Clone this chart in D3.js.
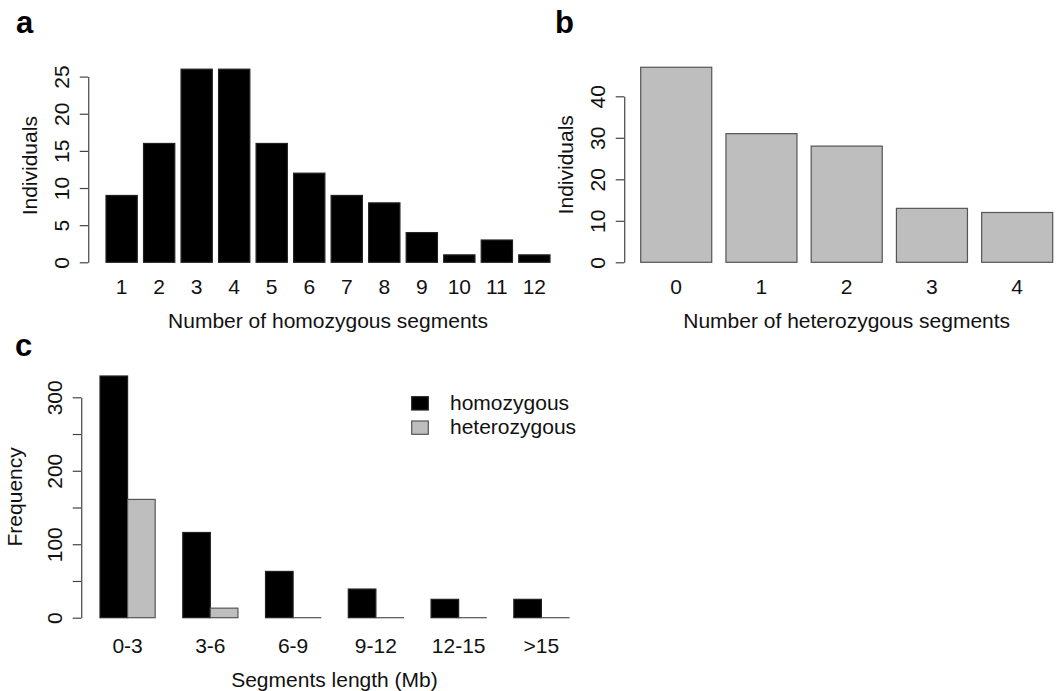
<!DOCTYPE html>
<html>
<head>
<meta charset="utf-8">
<script src="https://cdn.jsdelivr.net/npm/d3@7"></script>
<style>
  body { margin: 0; background: #fff; }
  svg { display: block; font-family: "Liberation Sans", Arial, Helvetica, sans-serif; }
</style>
</head>
<body>
<svg id="chart" width="1062" height="691"></svg>
<script>
// panel a: individuals by number of homozygous segments
const homSegments = ["1", "2", "3", "4", "5", "6", "7", "8", "9", "10", "11", "12"];
const homIndividuals = [9, 16, 26, 26, 16, 12, 9, 8, 4, 1, 3, 1];
const aTicks = [0, 5, 10, 15, 20, 25];

// panel b: individuals by number of heterozygous segments
const hetSegments = ["0", "1", "2", "3", "4"];
const hetIndividuals = [47, 31, 28, 13, 12];
const bTicks = [0, 10, 20, 30, 40];

// panel c: segment length distribution
const lengthBins = ["0-3", "3-6", "6-9", "9-12", "12-15", ">15"];
const homFreq = [329, 116, 63, 39, 25, 25];
const hetFreq = [161, 13, 0, 0, 0, 0];
const seriesNames = ["homozygous", "heterozygous"];
const cTicks = [0, 50, 100, 150, 200, 250, 300];
const cLabels = [0, 100, 200, 300];

const FONT = 21;
const BLACK = "#000";
const GREY = "#bebebe";

const svg = d3.select("#chart");

// R-like left axis: rotated tick labels, ticks outward
function leftAxis(g, y, ticks, labels) {
    g.call(d3.axisLeft(y).tickValues(ticks).tickSize(8.5).tickSizeOuter(0)
            .tickFormat(d => labels.includes(d) ? d : ""))
        .attr("color", "#444")
        .attr("font-size", FONT)
        .attr("font-family", null);
    g.select(".domain").attr("stroke-width", 1.2);
    g.selectAll(".tick line").attr("stroke-width", 1.2);
    g.selectAll(".tick text")
        .attr("x", null).attr("dy", null)
        .attr("fill", "#111")
        .attr("text-anchor", "middle")
        .attr("transform", "translate(-19.5,0) rotate(-90)");
}

function yTitle(text, x, yMid) {
    svg.append("text")
        .attr("transform", `translate(${x},${yMid}) rotate(-90)`)
        .attr("text-anchor", "middle")
        .attr("font-size", FONT)
        .attr("fill", "#111")
        .text(text);
}

function xTitle(text, x, yBase) {
    svg.append("text")
        .attr("x", x).attr("y", yBase)
        .attr("text-anchor", "middle")
        .attr("font-size", FONT)
        .attr("fill", "#111")
        .text(text);
}

function panelLetter(letter, x, y) {
    svg.append("text")
        .attr("x", x).attr("y", y)
        .attr("font-size", 31)
        .attr("font-weight", "bold")
        .attr("fill", "#000")
        .text(letter);
}

// simple single-series barplot (panels a and b)
function barPanel(opts) {
    const x = d3.scaleBand()
        .domain(opts.cats)
        .range(opts.xRange)
        .paddingInner(1 / 6)
        .paddingOuter(0);

    const y = d3.scaleLinear()
        .domain([0, opts.yTop])
        .range(opts.yRange);

    const span = opts.xRange[1] - opts.xRange[0];
    const axisX = opts.xRange[0] - 0.04 * span;
    const midX = (opts.xRange[0] + opts.xRange[1]) / 2;
    const maxV = d3.max(opts.values);
    const midY = (y(-0.04 * maxV) + y(1.04 * maxV)) / 2;

    svg.append("g").selectAll("rect")
        .data(opts.values)
        .enter()
        .append("rect")
        .attr("x", (d, i) => x(opts.cats[i]))
        .attr("y", d => y(d))
        .attr("width", x.bandwidth())
        .attr("height", d => y(0) - y(d))
        .attr("fill", opts.fill)
        .attr("stroke", opts.stroke)
        .attr("stroke-width", 1.2);

    svg.append("g").selectAll("text")
        .data(opts.cats)
        .enter()
        .append("text")
        .attr("x", d => x(d) + x.bandwidth() / 2)
        .attr("y", opts.labelY)
        .attr("text-anchor", "middle")
        .attr("font-size", FONT)
        .attr("fill", "#111")
        .text(d => d);

    svg.append("g")
        .attr("transform", `translate(${axisX},0)`)
        .call(g => leftAxis(g, y, opts.ticks, opts.ticks));

    yTitle(opts.yLabel, axisX - 51.7, midY);
    xTitle(opts.xLabel, midX, opts.labelY + 33.4);
}

barPanel({
    cats: homSegments, values: homIndividuals, ticks: aTicks,
    xRange: [106, 550], yTop: 25, yRange: [262.3, 76.6],
    fill: BLACK, stroke: "#222", labelY: 294.3,
    yLabel: "Individuals", xLabel: "Number of homozygous segments"
});

barPanel({
    cats: hetSegments, values: hetIndividuals, ticks: bTicks,
    xRange: [640.7, 1052.7], yTop: 40, yRange: [262.3, 96.3],
    fill: GREY, stroke: "#555", labelY: 294.3,
    yLabel: "Individuals", xLabel: "Number of heterozygous segments"
});

// panel c: grouped bars
const cRange = [100, 569];
const xc = d3.scaleBand()
    .domain(lengthBins)
    .range(cRange)
    .paddingInner(1 / 3)
    .paddingOuter(0);
const xs = d3.scaleBand()
    .domain(seriesNames)
    .range([0, xc.bandwidth()]);
const yc = d3.scaleLinear()
    .domain([0, 300])
    .range([617.7, 397.3]);

const seriesFill = { homozygous: BLACK, heterozygous: GREY };
const seriesStroke = { homozygous: "#222", heterozygous: "#555" };

const groups = lengthBins.map((bin, i) => ({
    bin: bin,
    bars: [
        { key: "homozygous", value: homFreq[i] },
        { key: "heterozygous", value: hetFreq[i] }
    ]
}));

svg.append("g").selectAll("g")
    .data(groups)
    .enter()
    .append("g")
    .attr("transform", d => `translate(${xc(d.bin)},0)`)
    .selectAll("rect")
    .data(d => d.bars)
    .enter()
    .append("rect")
    .attr("x", d => xs(d.key))
    .attr("y", d => yc(d.value))
    .attr("width", xs.bandwidth())
    .attr("height", d => Math.max(yc(0) - yc(d.value), 0.01)) // zero bars still show their outline
    .attr("fill", d => seriesFill[d.key])
    .attr("stroke", d => seriesStroke[d.key])
    .attr("stroke-width", 1.2);

svg.append("g").selectAll("text")
    .data(lengthBins)
    .enter()
    .append("text")
    .attr("x", d => xc(d) + xc.bandwidth() / 2)
    .attr("y", 653.3)
    .attr("text-anchor", "middle")
    .attr("font-size", FONT)
    .attr("fill", "#111")
    .text(d => d);

const cSpan = cRange[1] - cRange[0];
const cAxisX = cRange[0] - 0.04 * cSpan;
const cMax = d3.max(homFreq);
svg.append("g")
    .attr("transform", `translate(${cAxisX},0)`)
    .call(g => leftAxis(g, yc, cTicks, cLabels));

yTitle("Frequency", 22, (yc(-0.04 * cMax) + yc(1.04 * cMax)) / 2);
xTitle("Segments length (Mb)", (cRange[0] + cRange[1]) / 2, 686.7);

// legend
const legend = svg.append("g").attr("transform", "translate(411.7,396.7)");
seriesNames.forEach((name, i) => {
    legend.append("rect")
        .attr("x", 0).attr("y", i * 24.3)
        .attr("width", 16.6).attr("height", 13.3)
        .attr("fill", seriesFill[name])
        .attr("stroke", seriesStroke[name])
        .attr("stroke-width", 1.2);
    legend.append("text")
        .attr("x", 38.3).attr("y", i * 24.3 + 13.3)
        .attr("font-size", FONT)
        .attr("fill", "#111")
        .text(name);
});

panelLetter("a", 16, 32.7);
panelLetter("b", 555, 32.7);
panelLetter("c", 15, 356);
</script>
</body>
</html>
